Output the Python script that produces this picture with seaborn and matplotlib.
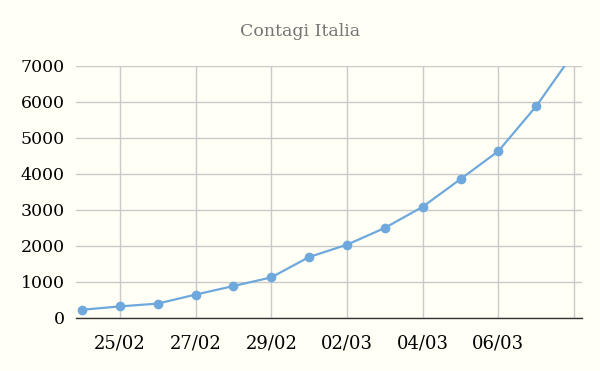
import matplotlib
matplotlib.use("Agg")
import matplotlib.pyplot as plt
import seaborn as sns
import pandas as pd

dates = ["24/02", "25/02", "26/02", "27/02", "28/02", "29/02", "01/03",
         "02/03", "03/03", "04/03", "05/03", "06/03", "07/03", "08/03"]
cases = [229, 322, 400, 650, 888, 1128, 1694, 2036, 2502, 3089, 3858, 4636, 5883, 7375]
tick_dates = ["25/02", "27/02", "29/02", "02/03", "04/03", "06/03", "08/03"]
tick_labels = ["25/02", "27/02", "29/02", "02/03", "04/03", "06/03", ""]
y_ticks = [0, 1000, 2000, 3000, 4000, 5000, 6000, 7000]
title = "Contagi Italia"

df = pd.DataFrame({"data": dates, "contagi": cases})

sns.set_theme(style="white")
plt.rcParams["font.family"] = ["DejaVu Serif"]
bg = "#fffff6"
fig = plt.figure(figsize=(6, 3.71), dpi=100, facecolor=bg)
ax = fig.add_axes([76/600, 1-318/371, (582-76)/600, (318-66)/371])
ax.set_facecolor(bg)

sns.lineplot(data=df, x="data", y="contagi", ax=ax, color="#6fa8dc",
             linewidth=1.6, marker="o", markersize=7, markeredgewidth=0,
             sort=False, zorder=3)

pos = [dates.index(d) for d in tick_dates]
ax.set_xticks(pos)
ax.set_xticklabels(tick_labels)
ax.set_yticks(y_ticks)
ax.set_xlim(-0.16, len(dates) - 1 + 0.21)
ax.set_ylim(0, 7000)
ax.grid(True, color="#cacaca", linewidth=1)
for s in ["top", "right", "left"]:
    ax.spines[s].set_visible(False)
ax.spines["bottom"].set_color("#333333")
ax.spines["bottom"].set_linewidth(1)
ax.spines["bottom"].set_zorder(4)
ax.tick_params(axis="both", length=0, colors="#000000")
ax.tick_params(axis="x", pad=12, labelsize=13)
ax.tick_params(axis="y", pad=8, labelsize=12.5)
ax.set_xlabel("")
ax.set_ylabel("")
fig.text(0.5, 1-32/371, title, ha="center", va="center", fontsize=12.5,
         color="#757575", family=["DejaVu Serif"])
fig.savefig("out.png", dpi=100, facecolor=bg)
